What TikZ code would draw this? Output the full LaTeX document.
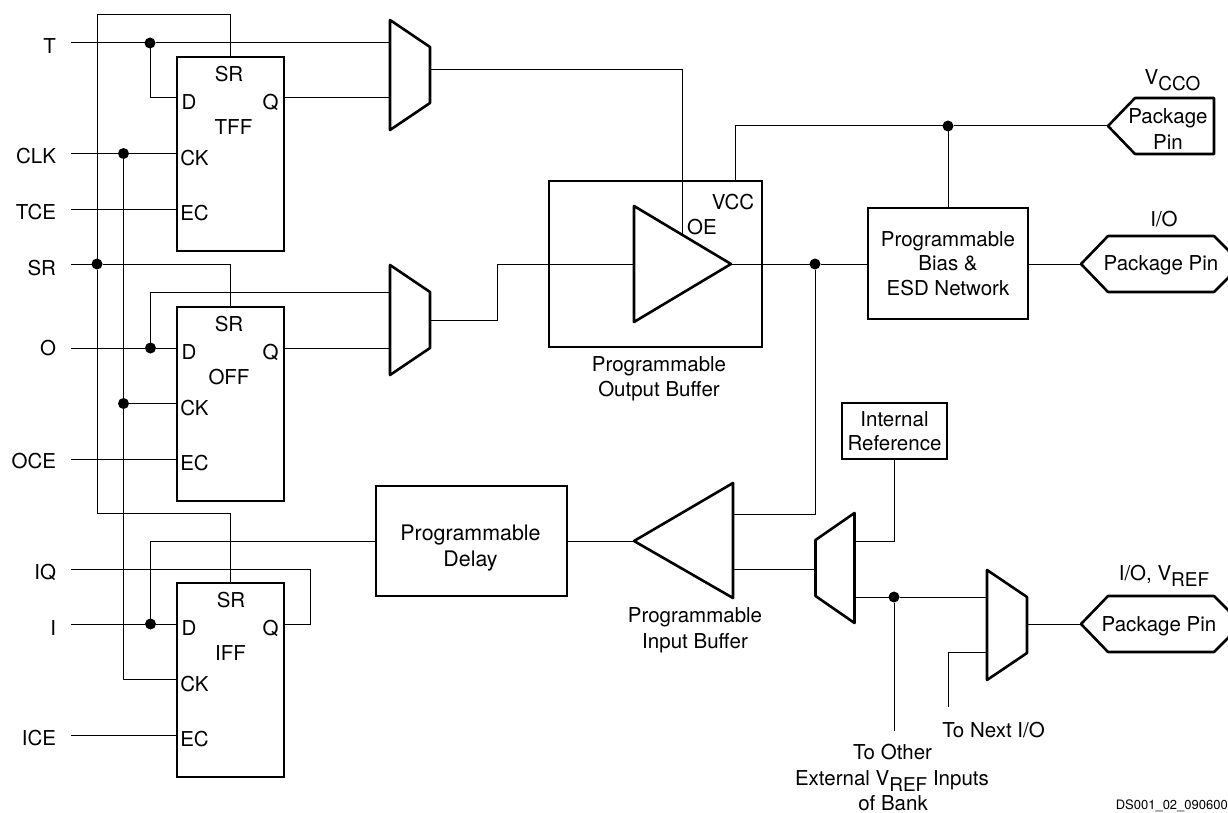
\documentclass[tikz,border=0pt]{standalone}
\usepackage{fontspec}
\setmainfont{TeX Gyre Heros}
\tikzset{
  wire/.style={line width=1pt,line join=miter},
  heavy/.style={line width=2.6pt,line join=round},
  boxn/.style={draw,line width=2.6pt,inner sep=0pt,outer sep=0pt,minimum width=#1},
  lbl/.style={inner sep=0pt,outer sep=0pt,text height=14.7pt,text depth=0pt},
  multi/.style={inner sep=0pt,outer sep=0pt,align=center},
  dot/.style={circle,fill=black,inner sep=0pt,outer sep=0pt,minimum size=11pt},
}
% flip-flop: name, top y, title, title x, SR x
\newcommand{\flipflop}[5]{%
  \node[boxn=107pt,minimum height=194pt] (#1) at (230.5,#2+97) {};
  \coordinate (#1D) at (177,#2+41);
  \coordinate (#1Q) at (284,#2+41);
  \coordinate (#1CK) at (177,#2+96.5);
  \coordinate (#1EC) at (177,#2+152);
  \node[lbl] (#1lSR) at (#5,#2+17) {SR};
  \node[lbl] (#1lD) at (189,#2+45) {D};
  \node[lbl] (#1lQ) at (270.5,#2+45) {Q};
  \node[lbl] (#1lT) at (#4,#2+70) {#3};
  \node[lbl] (#1lCK) at (194.5,#2+101) {CK};
  \node[lbl] (#1lEC) at (194.5,#2+156) {EC};
}
\newcommand{\muxr}[3]{\draw[heavy] (#2,#3-55) -- (#2+40,#3-28) -- (#2+40,#3+28) -- (#2,#3+55) -- cycle;}
\newcommand{\muxl}[3]{\draw[heavy] (#2,#3-28) -- (#2+39,#3-55) -- (#2+39,#3+55) -- (#2,#3+28) -- cycle;}
\begin{document}
\begin{tikzpicture}[x=1pt,y=-1pt,font=\fontsize{20.5}{24.5}\selectfont]
\useasboundingbox (0,0) rectangle (1228,813);
\clip (0,0) rectangle (1228,813);

% input labels and free ends
\node[lbl,anchor=east] (lT) at (56,46) {T};
\node[lbl,anchor=east] (lCLK) at (56,156) {CLK};
\node[lbl,anchor=east] (lTCE) at (56,212) {TCE};
\node[lbl,anchor=east] (lSR) at (56,268) {SR};
\node[lbl,anchor=east] (lO) at (56,348) {O};
\node[lbl,anchor=east] (lOCE) at (56,461) {OCE};
\node[lbl,anchor=east] (lIQ) at (56,572) {IQ};
\node[lbl,anchor=east] (lI) at (56,628) {I};
\node[lbl,anchor=east] (lICE) at (56,738) {ICE};
\coordinate (inT) at (71,43);
\coordinate (inCLK) at (71,153.5);
\coordinate (inTCE) at (71,209);
\coordinate (inSR) at (71,264);
\coordinate (inO) at (71,348);
\coordinate (inOCE) at (71,459);
\coordinate (inIQ) at (71,569);
\coordinate (inI) at (71,624);
\coordinate (inICE) at (71,735);

% flip-flops
\flipflop{tff}{57}{TFF}{233.5}{229}
\flipflop{off}{307}{OFF}{229}{229}
\flipflop{iff}{583}{IFF}{230.5}{231}

% muxes and their pins
\muxr{m1}{390}{75}
\muxr{m2}{390}{320}
\muxl{m3}{815.5}{568}
\muxr{m4}{987}{625}
\coordinate (m1a) at (390,43);
\coordinate (m1b) at (390,98);
\coordinate (m1o) at (430,70);
\coordinate (m2a) at (390,292);
\coordinate (m2b) at (390,348);
\coordinate (m2o) at (430,320);
\coordinate (m3a) at (854.5,541);
\coordinate (m3b) at (854.5,597);
\coordinate (m3i) at (815.5,569);
\coordinate (m4a) at (987,597);
\coordinate (m4b) at (987,652);
\coordinate (m4o) at (1026,624);

% blocks
\node[boxn=213pt,minimum height=166pt] (obuf) at (655.5,264) {};
\node[boxn=160pt,minimum height=111pt,multi] (bias) at (948,263.5) {Programmable\\Bias \&\\ESD Network};
\node[boxn=191pt,minimum height=110pt] (delay) at (471.5,541) {};
\node[multi,font=\fontsize{21.4}{25}\selectfont] (delayt) at (470.5,548) {Programmable\\[1.5pt]Delay};
\node[boxn=105pt,minimum height=56pt,multi] (iref) at (894.5,431) {Internal\\Reference};

% buffers
\draw[heavy] (634,206) -- (731,264) -- (634,322) -- cycle;
\draw[heavy] (733,483) -- (634,541) -- (733,598) -- cycle;
\coordinate (obI) at (634,264);
\coordinate (obO) at (731,264);
\coordinate (obE) at (682,234.7);
\coordinate (ibI) at (634,541);
\coordinate (ibA) at (733,514);
\coordinate (ibB) at (733,569);
\coordinate (vcc) at (735.5,181);

% pins
\draw[heavy] (1108,126) -- (1135,98) -- (1214,98) -- (1214,154) -- (1135,154) -- cycle;
\draw[heavy] (1081,264) -- (1108,236) -- (1214,236) -- (1242,264) -- (1214,292) -- (1108,292) -- cycle;
\draw[heavy] (1081,624) -- (1108,596) -- (1214,596) -- (1242,624) -- (1214,652) -- (1108,652) -- cycle;
\coordinate (p1) at (1108,126);
\coordinate (p2) at (1081,264);
\coordinate (p3) at (1081,624);

% junctions
\node[dot] (jT) at (150,43) {};
\node[dot] (jCLK) at (123.5,153.5) {};
\node[dot] (jSR) at (97,264) {};
\node[dot] (jO) at (150.5,348) {};
\node[dot] (jCK2) at (123.5,403.5) {};
\node[dot] (jI) at (150.5,624) {};
\node[dot] (jV) at (948,126) {};
\node[dot] (jOut) at (815,264) {};
\node[dot] (jR) at (894,597) {};

% free ends below
\coordinate (eNext) at (948,707);
\coordinate (eOther) at (894,731);

% wires: T row
\draw[wire] (inT) -- (jT) -- (m1a);
\draw[wire] (jT) |- (tffD);
\draw[wire] (tffQ) -- (m1b);
\draw[wire] (inCLK) -- (jCLK) -- (tffCK);
\draw[wire] (inTCE) -- (tffEC);
% SR bus
\draw[wire] (tff.north) -- ++(0,-42) -| (jSR);
\draw[wire] (jSR) |- (230.5,513) -- (iff.north);
\draw[wire] (inSR) -- (jSR) -- (230.5,264) -- (off.north);
% CK bus
\draw[wire] (jCLK) |- (iffCK);
\draw[wire] (jCK2) -- (offCK);
% O row
\draw[wire] (inO) -- (jO) -- (offD);
\draw[wire] (jO) |- (m2a);
\draw[wire] (offQ) -- (m2b);
\draw[wire] (inOCE) -- (offEC);
% I row
\draw[wire] (inI) -- (jI) -- (iffD);
\draw[wire] (jI) |- (delay.west);
\draw[wire] (inIQ) -- (310,569) |- (iffQ);
\draw[wire] (inICE) -- (iffEC);
% output path
\draw[wire] (m1o) -| (obE);
\draw[wire] (m2o) -- (497,320) |- (obI);
\draw[wire] (obO) -- (jOut) -- (bias.west |- jOut);
\draw[wire] (vcc) |- (jV) -- (p1);
\draw[wire] (jV) -- (bias.north -| jV);
\draw[wire] (bias.east |- p2) -- (p2);
% input path
\draw[wire] (delay.east) -- (ibI);
\draw[wire] (jOut) |- (ibA);
\draw[wire] (ibB) -- (m3i);
\draw[wire] (m3a) -| (iref.south);
\draw[wire] (m3b) -- (jR) -- (m4a);
\draw[wire] (jR) -- (eOther);
\draw[wire] (m4b) -| (eNext);
\draw[wire] (m4o) -- (p3);

% labels
\node[lbl] (tVCC) at (733,202) {VCC};
\node[lbl] (tOE) at (702,227) {OE};
\node[multi] (tOB) at (659,379) {Programmable\\Output Buffer};
\node[multi] (tIB) at (695,630) {Programmable\\[1.5pt]Input Buffer};
\node[multi] (tP1) at (1168,129) {Package\\[1.5pt]Pin};
\node[lbl] (tP2) at (1161,263) {Package Pin};
\node[lbl] (tP3) at (1159,624) {Package Pin};
\node[lbl] (tIO) at (1164,219) {I/O};
\node[lbl] (tVCCO) at (1172.5,77) {V\raisebox{-6pt}{\fontsize{19}{19}\selectfont CCO}};
\node[lbl] (tVREF) at (1164,573) {I/O, V\raisebox{-6pt}{\fontsize{19}{19}\selectfont REF}};
\node[lbl] (tNext) at (993.5,730) {To Next I/O};
\node[lbl] (tOther) at (892.5,752) {To Other};
\node[lbl] (tExt) at (892,778) {External V\raisebox{-6pt}{\fontsize{19}{19}\selectfont REF} Inputs};
\node[lbl] (tBank) at (893,803) {of Bank};
\node[inner sep=0pt,anchor=east,font=\fontsize{13}{13}\selectfont] (tDS) at (1228,806) {DS001\_02\_090600};
\end{tikzpicture}
\end{document}
